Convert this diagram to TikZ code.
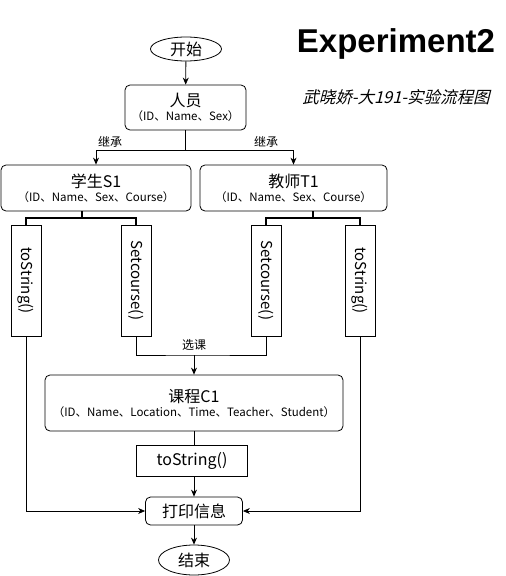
\documentclass[tikz,border=0pt]{standalone}
\usepackage{fontspec}
\setmainfont{Noto Sans CJK SC}
\newfontfamily\headfont{Liberation Sans}
\newfontfamily\slantfont[FakeSlant=0.25]{Noto Sans CJK SC}
\usetikzlibrary{arrows.meta, shapes.geometric}
\newcommand{\clstext}[2]{{\fontsize{16}{18}\selectfont #1}\\[2pt]{\fontsize{11.5}{13}\selectfont #2}}
\tikzset{
  term/.style ={draw, ellipse, minimum width=71pt, minimum height=24pt, inner sep=0pt, line width=0.8pt, font=\fontsize{16}{18}\selectfont},
  cls/.style  ={draw, rounded corners=5pt, align=center, inner sep=0pt, line width=0.8pt},
  meth/.style ={draw, minimum width=111pt, minimum height=30pt, inner sep=0pt, rotate=-90, line width=0.8pt, font=\fontsize{15}{17}\selectfont},
  fnbox/.style={draw, minimum width=111pt, minimum height=31pt, inner sep=0pt, line width=0.8pt, font=\fontsize{16}{18}\selectfont},
  arr/.style  ={-{Stealth[length=7pt, width=6pt]}, line width=0.8pt},            % plain arrow
  bar/.style  ={line width=2pt},                                                  % fork to the methods
  lbl/.style  ={font=\fontsize{12}{14}\selectfont},
}
\begin{document}
\begin{tikzpicture}[x=1pt, y=-1pt]
  \useasboundingbox (0,0) rectangle (506,576);

  % heading
  \node (head) at (396,44) {\headfont\bfseries\fontsize{33}{36}\selectfont Experiment2};
  \node (sub)  at (396,97) {\slantfont\fontsize{16.5}{18}\selectfont 武晓娇-大191-实验流程图};

  % classes
  \node[term] (start) at (186,49) {开始};
  \node[cls, minimum width=121pt, minimum height=45pt] (person) at (185.5,107.5) {\clstext{人员}{（ID、Name、Sex）}};
  \node[cls, minimum width=190pt, minimum height=46pt] (stu) at (96,188) {\clstext{学生S1}{（ID、Name、Sex、Course）}};
  \node[cls, minimum width=187pt, minimum height=46pt] (tea) at (293.5,188) {\clstext{教师T1}{（ID、Name、Sex、Course）}};
  \draw[arr] (start) -- (person);
  \coordinate (pj) at (185.5,150);
  \draw (person) -- (pj);
  \draw[arr] (pj) -| (stu);
  \draw[arr] (pj) -| (tea);
  \node[lbl] (inh1) at (110,142) {继承};
  \node[lbl] (inh2) at (266,142) {继承};

  % methods
  \node[meth] (ts1) at (26,280.5)  {toString()};
  \node[meth] (sc1) at (136,280.5) {Setcourse()};
  \node[meth] (sc2) at (266,280.5) {Setcourse()};
  \node[meth] (ts2) at (360,280.5) {toString()};
  \coordinate (sj) at (82,218);
  \coordinate (tj) at (313,218);
  \draw[bar] (stu.south -| sj) -- (sj);
  \draw[bar] (sj) -| (ts1);
  \draw[bar] (sj) -| (sc1);
  \draw[bar] (tea.south -| tj) -- (tj);
  \draw[bar] (tj) -| (sc2);
  \draw[bar] (tj) -| (ts2);

  % course
  \node[cls, minimum width=298pt, minimum height=56pt] (course) at (194,403) {\clstext{课程C1}{（ID、Name、Location、Time、Teacher、Student）}};
  \coordinate (cj) at (194,355);
  \draw (sc1) |- (cj) -| (sc2);
  \draw[arr] (cj) -- (course);
  \node[lbl] (pick) at (194,345) {选课};

  % output
  \node[fnbox] (method) at (192,460.5) {toString()};
  \node[cls, minimum width=97pt, minimum height=28pt, font=\fontsize{16}{18}\selectfont] (print) at (194,511) {打印信息};
  \node[term, minimum height=30pt] (end) at (194,560) {结束};
  \draw (course.south) -- (course.south |- method.north);
  \draw[arr] (method.south -| print) -- (print);
  \draw[arr] (ts1) |- (print);
  \draw[arr] (ts2) |- (print);
  \draw[arr] (print) -- (end);
\end{tikzpicture}
\end{document}
